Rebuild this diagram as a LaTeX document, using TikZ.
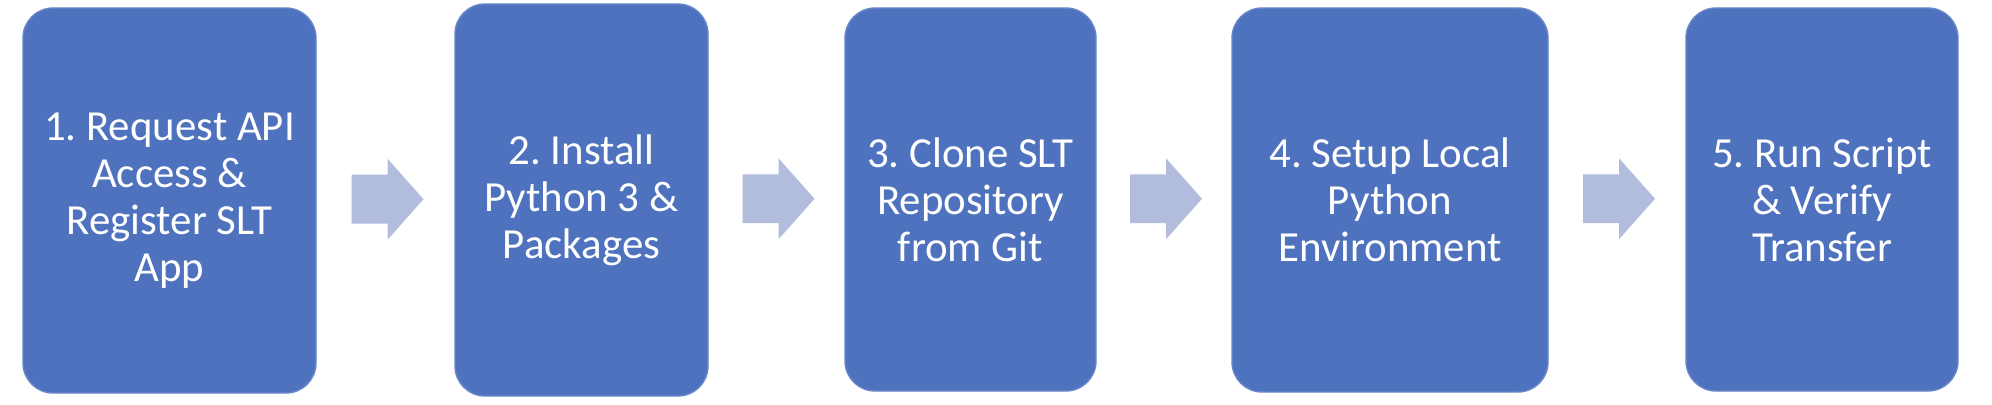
\documentclass[tikz,border=0pt]{standalone}
\usepackage{fontspec}
\setmainfont{Carlito}
\usetikzlibrary{calc}
\definecolor{kasten}{RGB}{79,114,190}
\definecolor{pfeil}{RGB}{178,188,220}
\frenchspacing

\tikzset{
  stepbox/.style={draw=kasten!85!white, fill=kasten, rounded corners=0.3cm, text=white,
    align=center, inner sep=0pt, font=\fontsize{12.2pt}{13.4pt}\selectfont}
}

% block arrow centred at a named coordinate
\newcommand{\blockpfeil}[1]{%
  \fill[pfeil] ($(#1)+(-0.36,-0.245)$) -- ++(0.36,0) -- ++(0,-0.16) -- ($(#1)+(0.36,0)$)
    -- ($(#1)+(0,0.405)$) -- ++(0,-0.16) -- ($(#1)+(-0.36,0.245)$) -- cycle;}

\begin{document}
\begin{tikzpicture}

    \useasboundingbox (0,0) rectangle (19.92,4.04);

    \node[stepbox, minimum width=2.93cm, minimum height=3.85cm] (request) at (1.695,2.035) {1. Request API\\Access \&\\Register SLT\\App};
    \node[stepbox, minimum width=2.53cm, minimum height=3.92cm] (install) at (5.815,2.04) {2. Install\\Python 3 \&\\Packages};
    \node[stepbox, minimum width=2.51cm, minimum height=3.83cm] (clone) at (9.705,2.045) {3. Clone SLT\\Repository\\from Git};
    \node[stepbox, minimum width=3.16cm, minimum height=3.84cm] (setup) at (13.90,2.04) {4. Setup Local\\Python\\Environment};
    \node[stepbox, minimum width=2.72cm, minimum height=3.83cm] (run) at (18.22,2.045) {5. Run Script\\\& Verify\\Transfer};

    % block arrows between the steps
    \coordinate (m1) at ($(request.east)!0.5!(install.west)+(0.02,0.01)$);
    \coordinate (m2) at ($(install.east)!0.5!(clone.west)+(0.02,0.01)$);
    \coordinate (m3) at ($(clone.east)!0.5!(setup.west)+(0.02,0.01)$);
    \coordinate (m4) at ($(setup.east)!0.5!(run.west)+(0.02,0.01)$);

    \blockpfeil{m1}
    \blockpfeil{m2}
    \blockpfeil{m3}
    \blockpfeil{m4}

\end{tikzpicture}
\end{document}
